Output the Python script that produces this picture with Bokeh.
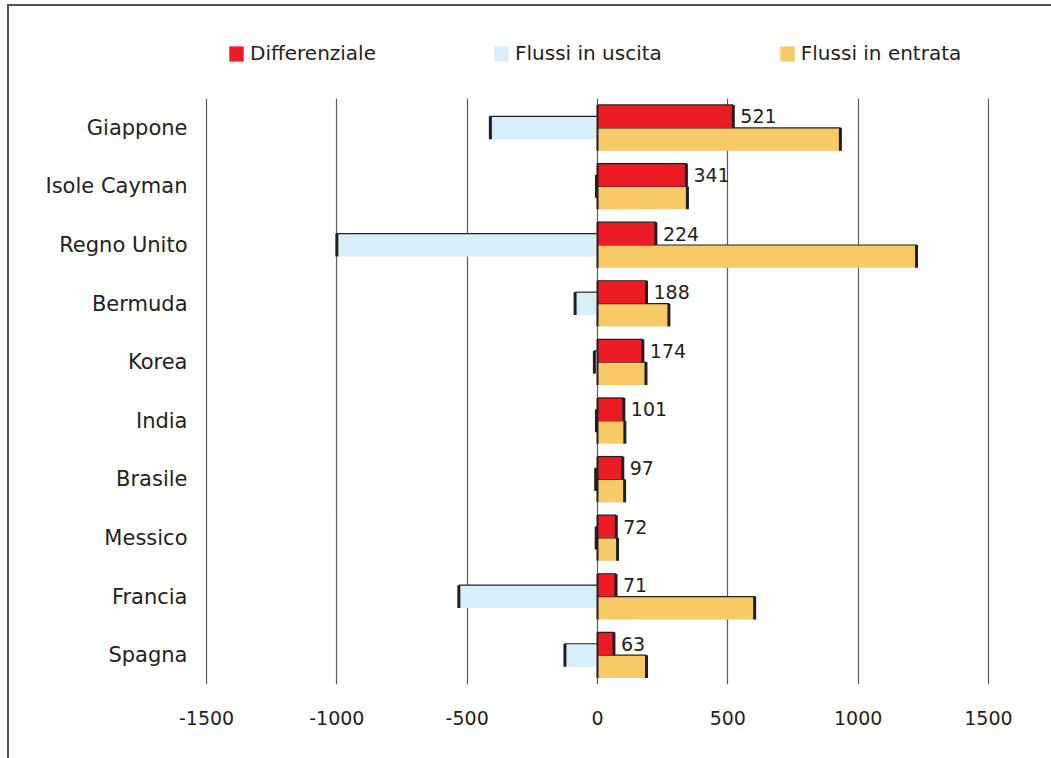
from bokeh.plotting import figure
from bokeh.layouts import column
from bokeh.models import (ColumnDataSource, FactorRange, Range1d, FixedTicker,
                          Legend, LegendItem)
from bokeh.transform import dodge
from bokeh.core.properties import value
from bokeh.embed import file_html
from bokeh.resources import INLINE

# Investimenti diretti: flussi in entrata, in uscita e differenziale per paese
paesi = ["Giappone", "Isole Cayman", "Regno Unito", "Bermuda", "Korea",
         "India", "Brasile", "Messico", "Francia", "Spagna"]
differenziale = [521, 341, 224, 188, 174, 101, 97, 72, 71, 63]
flussi_uscita = [-411, -4, -1000, -86, -12, -4, -7, -5, -532, -125]
flussi_entrata = [932, 345, 1224, 274, 186, 105, 104, 77, 603, 188]
serie = ["Differenziale", "Flussi in uscita", "Flussi in entrata"]
tick_values = [-1500, -1000, -500, 0, 500, 1000, 1500]
tick_labels = ["-1500", "-1000", "-500", "0", "500", "1000", "1500"]

ROSSO = "#ed1c24"
AZZURRO = "#d8eefa"
GIALLO = "#f8c967"
SCURO = "#231f20"
FONT = "DejaVu Sans"
colori = [ROSSO, AZZURRO, GIALLO]

src = ColumnDataSource(dict(
    paese=paesi,
    diff=differenziale,
    usc=flussi_uscita,
    ent=flussi_entrata,
    lab=[str(v) for v in differenziale],
))

# piccolo margine oltre ±1500 perché le griglie estreme restino visibili
p = figure(
    width=1042, height=670,
    frame_width=784, frame_height=586,
    min_border_left=196, min_border_right=62,
    min_border_top=10, min_border_bottom=74,
    x_range=Range1d(tick_values[0] - 4, tick_values[-1] + 4),
    y_range=FactorRange(factors=list(reversed(paesi)), range_padding=0),
    output_backend="svg", toolbar_location=None,
)
p.outline_line_color = None
p.background_fill_color = "white"
p.border_fill_color = "white"

yr = p.y_range


def off(d):
    return dodge("paese", d, range=yr)


H = 0.39

# barre: uscita (centrata), entrata (metà inferiore), differenziale (metà superiore)
p.hbar(y=off(0.0), height=H, left=0, right="usc", source=src,
       fill_color=AZZURRO, line_color=None)
p.segment(x0=0, x1="usc", y0=off(H / 2), y1=off(H / 2), source=src,
          line_color=SCURO, line_width=1.2)
p.segment(x0="usc", x1="usc", y0=off(-H / 2), y1=off(H / 2), source=src,
          line_color=SCURO, line_width=3)

p.hbar(y=off(-H / 2), height=H, left=0, right="ent", source=src,
       fill_color=GIALLO, line_color=None)
p.segment(x0=0, x1="ent", y0=off(0), y1=off(0), source=src,
          line_color=SCURO, line_width=1.2)
p.segment(x0="ent", x1="ent", y0=off(-H), y1=off(0), source=src,
          line_color=SCURO, line_width=3)

p.hbar(y=off(H / 2), height=H, left=0, right="diff", source=src,
       fill_color=ROSSO, line_color=None)
p.segment(x0=0, x1="diff", y0=off(H), y1=off(H), source=src,
          line_color=SCURO, line_width=1.2)
p.segment(x0="diff", x1="diff", y0=off(0), y1=off(H), source=src,
          line_color=SCURO, line_width=3)

# bordo scuro alla base delle barre
p.segment(x0=0, x1=0, y0=off(-H), y1=off(H), source=src,
          line_color=SCURO, line_width=2)

# etichette del differenziale
p.text(x="diff", y=off(H / 2), text="lab", source=src, x_offset=7,
       text_baseline="middle", text_align="left",
       text_font=value(FONT), text_font_size="19px", text_color=SCURO)

# assi
p.xaxis.ticker = FixedTicker(ticks=tick_values)
p.xaxis.major_label_overrides = dict(zip(tick_values, tick_labels))
for ax in (p.xaxis, p.yaxis):
    ax.axis_line_color = None
    ax.major_tick_line_color = None
    ax.minor_tick_line_color = None
    ax.major_label_text_font = FONT
    ax.major_label_text_color = SCURO
p.xaxis.major_label_text_font_size = "19px"
p.xaxis.major_label_standoff = 20
p.yaxis.major_label_text_font_size = "21px"
p.yaxis.major_label_standoff = 12

p.xgrid.ticker = FixedTicker(ticks=tick_values)
p.xgrid.grid_line_color = "#5a5a5a"
p.xgrid.grid_line_width = 1.2
p.ygrid.grid_line_color = None

# fascia della legenda sopra il grafico (riquadro allineato a quello del grafico)
lg = figure(
    width=1042, height=82,
    x_range=Range1d(0, 1), y_range=Range1d(0, 1),
    min_border_left=0, min_border_right=0,
    min_border_top=0, min_border_bottom=0,
    output_backend="svg", toolbar_location=None,
)
lg.axis.visible = False
lg.grid.visible = False
lg.outline_line_color = None
# campioni fuori dall'area visibile: servono solo per i simboli della legenda
campioni = [lg.hbar(y=[5], left=[5], right=[5], height=1,
                    fill_color=c, line_color=None)
            for c in colori]
legenda = Legend(
    items=[LegendItem(label=n, renderers=[r]) for n, r in zip(serie, campioni)],
    location=(22, 23), orientation="horizontal",
    padding=0, margin=0, spacing=116,
    border_line_color=None, background_fill_alpha=0,
    glyph_width=18, glyph_height=19, label_standoff=5,
    label_text_font=FONT, label_text_font_size="20px",
    label_text_color=SCURO,
)
lg.add_layout(legenda)

pagina = column(lg, p, spacing=0)
pagina.styles = {
    "border-top": "2px solid #505050",
    "border-left": "2px solid #505050",
    "margin-left": "7px",
    "margin-top": "4px",
}

open("out.html", "w").write(file_html(pagina, INLINE))
